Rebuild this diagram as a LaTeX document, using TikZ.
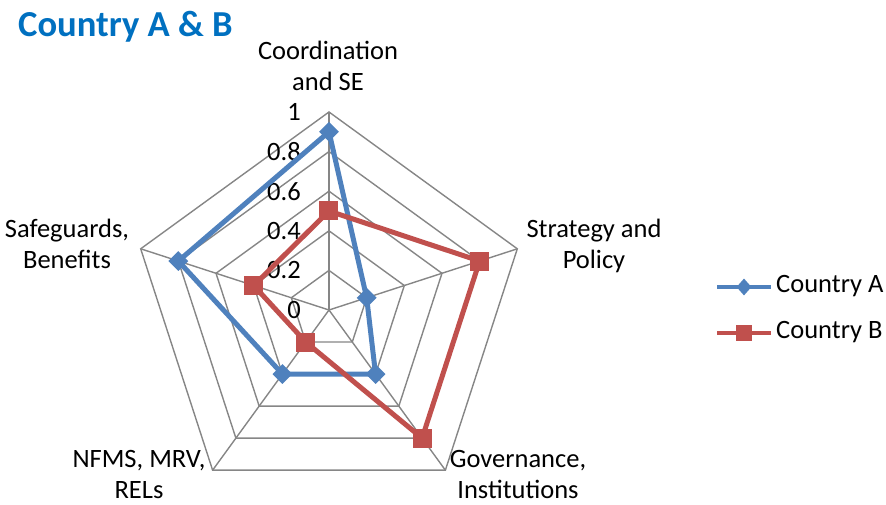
\documentclass[tikz,border=0pt]{standalone}
\usepackage{fontspec}
\setmainfont{Carlito}
\usepackage{tikz}
\usetikzlibrary{shapes.geometric}

\definecolor{seriesA}{RGB}{79,129,189}
\definecolor{seriesB}{RGB}{192,80,77}
\definecolor{gridgray}{RGB}{134,134,134}
\definecolor{titleblue}{RGB}{0,112,192}

\newcommand{\labelfont}{\fontsize{26.5bp}{31bp}\selectfont}
\newcommand{\titlefont}{\fontsize{36.6bp}{40bp}\selectfont\bfseries}

\tikzset{
  gridline/.style={gridgray, line width=1.4bp},
  lineA/.style={seriesA, line width=5bp, line join=round},
  lineB/.style={seriesB, line width=5bp, line join=round},
  markA/.style={diamond, fill=seriesA, inner sep=0, minimum width=20bp, minimum height=20bp},
  markB/.style={rectangle, fill=seriesB, inner sep=0, minimum size=19bp},
  axislabel/.style={align=center, font=\labelfont, inner sep=0, anchor=base},
  ticklabel/.style={anchor=east, font=\labelfont, inner sep=0},
}

\begin{document}
\begin{tikzpicture}[x=1bp,y=1bp]
\useasboundingbox (-329,-195) rectangle (557,310);
\def\R{198}

% grid
\coordinate (c) at (0,0);
\foreach \k in {0,...,4} {
  \coordinate (v\k) at ({90-72*\k}:\R);
  \draw[gridline] (c) -- (v\k);
}
\foreach \r in {0.2,0.4,0.6,0.8,1} {
  \draw[gridline] (90:\r*\R) -- (18:\r*\R) -- (-54:\r*\R) -- (-126:\r*\R) -- (162:\r*\R) -- cycle;
}
\foreach \t [count=\i] in {0,0.2,0.4,0.6,0.8,1} {
  \node[ticklabel] (tick\i) at (-28,\t*\R) {\t};
}

% axis labels (base = last line)
\node[axislabel] (coord) at (-1,219) {Coordination\\and SE};
\node[axislabel] (strat) at (265,41) {Strategy and\\Policy};
\node[axislabel] (gov) at (189,-189) {Governance,\\Institutions};
\node[axislabel] (nfms) at (-190,-189) {NFMS, MRV,\\RELs};
\node[axislabel] (safe) at (-262,41) {Safeguards,\\Benefits};

% Country A
\foreach \v [count=\i from 0] in {0.9,0.2,0.4,0.4,0.8} {
  \coordinate (a\i) at ({90-72*\i}:{\v*\R});
}
\draw[lineA] (a0) -- (a1) -- (a2) -- (a3) -- (a4) -- cycle;
\foreach \i in {0,...,4} \node[markA] (ma\i) at (a\i) {};

% Country B
\foreach \v [count=\i from 0] in {0.5,0.8,0.8,0.2,0.4} {
  \coordinate (b\i) at ({90-72*\i}:{\v*\R});
}
\draw[lineB] (b0) -- (b1) -- (b2) -- (b3) -- (b4) -- cycle;
\foreach \i in {0,...,4} \node[markB] (mb\i) at (b\i) {};

% legend
\coordinate (legA1) at (388,23);
\coordinate (legA2) at (442,23);
\draw[lineA, line width=4.5bp] (legA1) -- (legA2);
\node[markA, minimum width=15bp, minimum height=17bp] (legmA) at (415,23) {};
\node[anchor=base west, font=\labelfont, inner sep=0] (legtxtA) at (447,17) {Country A};
\coordinate (legB1) at (388,-23);
\coordinate (legB2) at (442,-23);
\draw[lineB, line width=4.5bp] (legB1) -- (legB2);
\node[markB, minimum size=16bp] (legmB) at (415,-23) {};
\node[anchor=base west, font=\labelfont, inner sep=0] (legtxtB) at (447,-29) {Country B};

% title
\node[anchor=base west, font=\titlefont, text=titleblue, inner sep=0] (title) at (-311,273) {Country A \& B};
\end{tikzpicture}
\end{document}
